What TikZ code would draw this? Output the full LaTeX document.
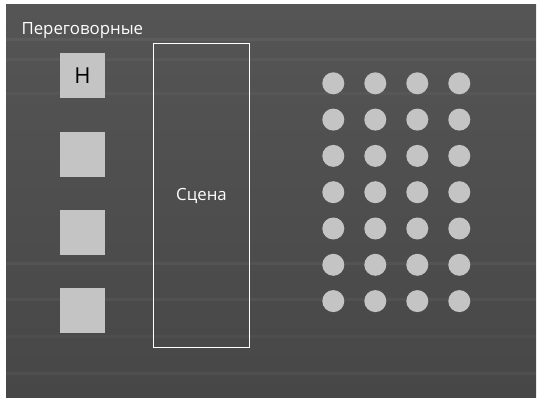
\documentclass[tikz,border=0pt]{standalone}
\usepackage{fontspec}
\setmainfont{Open Sans}
\usetikzlibrary{positioning}
\definecolor{board}{HTML}{474747}
\definecolor{boardlight}{HTML}{555555}
\definecolor{paper}{HTML}{C4C4C4}

\begin{document}
\begin{tikzpicture}[x=1pt, y=-1pt,
  room/.style={fill=paper, minimum size=45pt, inner sep=0pt},
  seat/.style={circle, fill=paper, minimum size=22pt, inner sep=0pt},
  label/.style={text=white, font=\fontsize{16.8}{20}\selectfont}]
\useasboundingbox (0,0) rectangle (541,404);
% board
\shade[top color=boardlight, bottom color=board] (6,5) rectangle (536,397);
\foreach \y/\o in {38/0.05, 58/0.04, 92/0.03, 262/0.04, 298/0.04, 335/0.03, 372/0.04}
  \fill[white, opacity=\o] (6,\y) rectangle (536,\y+3);
% rooms
\node[label, anchor=west] (title) at (18,31) {Переговорные};
\node[room] (room1) at (82.5,75.5) {\fontsize{22}{24}\selectfont Н};
\node[room] (room2) at (82.5,154.5) {};
\node[room] (room3) at (82.5,232.5) {};
\node[room] (room4) at (82.5,310.5) {};
% stage
\node[draw=white, line width=1.2pt, minimum width=96pt, minimum height=304pt,
  inner sep=0pt] (stage) at (201.5,195.5) {};
\node[label] (stagelabel) at (stage.center) {Сцена};
% seats
\foreach \r in {0,...,6}
  \foreach \c in {0,...,3}
    \node[seat] (seat-\r-\c) at (333.3+42*\c,83.3+36.3*\r) {};
\end{tikzpicture}
\end{document}
